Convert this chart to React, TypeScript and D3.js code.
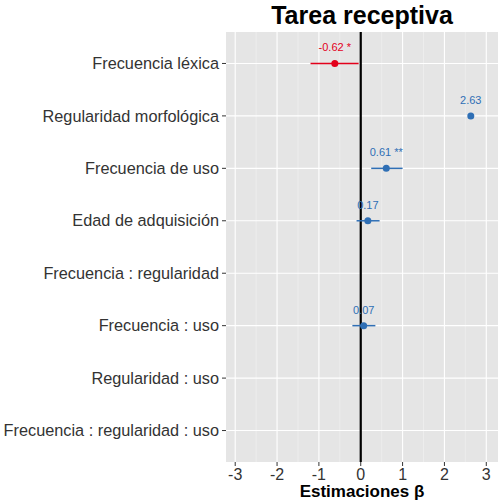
import React from "react";
import * as d3 from "d3";

const terms = ["Frecuencia léxica","Regularidad morfológica","Frecuencia de uso","Edad de adquisición","Frecuencia : regularidad","Frecuencia : uso","Regularidad : uso","Frecuencia : regularidad : uso"];
const estimates = [-0.62, 2.63, 0.61, 0.17, null, 0.07, null, null];
const lower = [-1.2, 2.63, 0.25, -0.1, null, -0.2, null, null];
const upper = [-0.05, 2.63, 1.0, 0.45, null, 0.35, null, null];
const labels = ["-0.62 *","2.63","0.61 **","0.17","","0.07","",""];
const xTicks = [-3,-2,-1,0,1,2,3];

export default function App() {
  const L = 226, R = 498, T = 32, B = 462;
  const x = d3.scaleLinear().domain([-3.22, 3.28]).range([L, R]);
  const y = d3.scaleLinear().domain([0.4, 8.6]).range([T, B]);
  const minor = d3.range(-3, 3.01, 1).map(v => v + 0.5).filter(v => x(v) < R);
  return (
    <svg width={504} height={504} style={{position:"absolute",left:0,top:0,fontFamily:"Liberation Sans, Arial, sans-serif"}}>
      <rect width={504} height={504} fill="#fff"/>
      <rect x={L} y={T} width={R-L} height={B-T} fill="#e5e5e5"/>
      {minor.map(v=> <line key={"m"+v} x1={x(v)} x2={x(v)} y1={T} y2={B} stroke="#f2f2f2" strokeWidth={0.6}/>)}
      {xTicks.map(v=> <line key={"g"+v} x1={x(v)} x2={x(v)} y1={T} y2={B} stroke="#fff" strokeWidth={1.1}/>)}
      {terms.map((t,i)=> <line key={"h"+i} x1={L} x2={R} y1={y(i+1)} y2={y(i+1)} stroke="#fff" strokeWidth={1.1}/>)}
      <line x1={x(0)} x2={x(0)} y1={T} y2={B} stroke="#000" strokeWidth={2.2}/>
      {terms.map((t,i)=>{
        const e = estimates[i]; if (e===null) return null;
        const c = e < 0 ? "#e3001b" : "#2f6fb5";
        const yy = y(i+1);
        return <g key={"p"+i}>
          {lower[i]!==upper[i] && <line x1={x(lower[i] as number)} x2={x(upper[i] as number)} y1={yy} y2={yy} stroke={c} strokeWidth={1.5}/>}
          <circle cx={x(e)} cy={yy} r={3.5} fill={c}/>
          <text x={x(e)} y={yy-12} textAnchor="middle" fontSize={11} fill={c}>{labels[i]}</text>
        </g>;
      })}
      {terms.map((t,i)=> <g key={"yl"+i}>
        <line x1={L-4} x2={L} y1={y(i+1)} y2={y(i+1)} stroke="#333"/>
        <text x={L-7} y={y(i+1)} dy="0.35em" textAnchor="end" fontSize={16.3} fill="#333">{t}</text>
      </g>)}
      {xTicks.map(v=> <g key={"xl"+v}>
        <line x1={x(v)} x2={x(v)} y1={B} y2={B+4} stroke="#333"/>
        <text x={x(v)} y={B+18} textAnchor="middle" fontSize={16} fill="#333">{v}</text>
      </g>)}
      <text x={(L+R)/2} y={497} textAnchor="middle" fontSize={17} fontWeight="bold">Estimaciones β</text>
      <text x={(L+R)/2} y={24} textAnchor="middle" fontSize={25} fontWeight="bold">Tarea receptiva</text>
    </svg>
  );
}
